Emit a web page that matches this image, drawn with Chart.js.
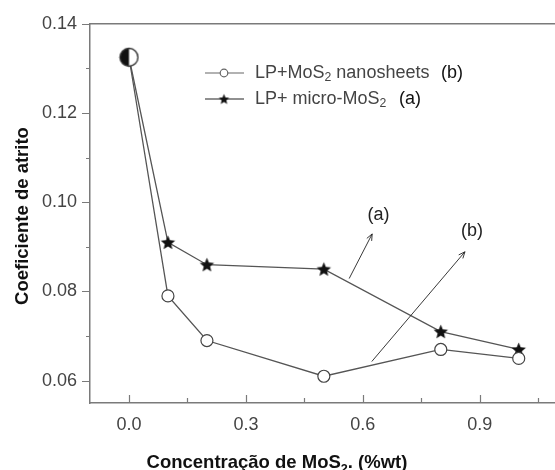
<!DOCTYPE html>
<html lang="pt">
<head>
  <meta charset="UTF-8" />
  <title>Coeficiente de atrito</title>
  <style>
    html, body { margin: 0; padding: 0; background: #ffffff; overflow: hidden; }
    #wrap { width: 565px; height: 470px; }
  </style>
</head>
<body>
<div id="wrap"><canvas id="atrito" width="565" height="470"></canvas></div>

<script src="https://cdn.jsdelivr.net/npm/chart.js"></script>
<script>
  // concentration (%wt) and friction coefficient for each lubricant
  const concentracao = [0.0, 0.1, 0.2, 0.5, 0.8, 1.0];
  const nanosheets = [0.1325, 0.079, 0.069, 0.061, 0.067, 0.065];
  const microMoS2 = [0.1325, 0.091, 0.086, 0.085, 0.071, 0.067];

  const xTicks = [0.0, 0.3, 0.6, 0.9];
  const xMinor = [0.15, 0.45, 0.75, 1.05];
  const yTicks = [0.06, 0.08, 0.10, 0.12, 0.14];
  const yMinor = [0.07, 0.09, 0.11, 0.13];

  // annotation arrows: [x, y] in data units, label placed above the tip
  const arrows = [
    { label: '(a)', from: [0.565, 0.0829], to: [0.624, 0.0929], text: [0.640, 0.0972] },
    { label: '(b)', from: [0.623, 0.0643], to: [0.862, 0.0889], text: [0.880, 0.0935] }
  ];

  const LINE = '#555555';
  const AXIS = '#7a7a7a';
  const TEXT = '#444444';
  const FONT = '"Liberation Sans", Arial, sans-serif';

  function makeStar(r) {
    const c = document.createElement('canvas');
    c.width = c.height = Math.ceil(r * 2 + 2);
    const g = c.getContext('2d');
    const cx = c.width / 2, cy = c.height / 2 + r * 0.08;
    g.beginPath();
    for (let i = 0; i < 10; i++) {
      const rad = i % 2 === 0 ? r : r * 0.45;
      const a = -Math.PI / 2 + i * Math.PI / 5;
      g.lineTo(cx + rad * Math.cos(a), cy + rad * Math.sin(a));
    }
    g.closePath();
    g.fillStyle = '#111111';
    g.fill();
    return c;
  }

  function makeHalfCircle(r) {
    const c = document.createElement('canvas');
    c.width = c.height = Math.ceil(r * 2 + 3);
    const g = c.getContext('2d');
    const cx = c.width / 2, cy = c.height / 2;
    g.beginPath();
    g.arc(cx, cy, r, 0, Math.PI * 2);
    g.fillStyle = '#ffffff';
    g.fill();
    g.beginPath();
    g.arc(cx, cy, r, Math.PI / 2, Math.PI * 1.5);
    g.closePath();
    g.fillStyle = '#111111';
    g.fill();
    g.beginPath();
    g.arc(cx, cy, r, 0, Math.PI * 2);
    g.lineWidth = 1.4;
    g.strokeStyle = '#333333';
    g.stroke();
    return c;
  }

  const star = makeStar(7.5);
  const smallStar = makeStar(5.5);
  const halfCircle = makeHalfCircle(9);

  // draws text pieces in a row, pieces with sub:true are lowered and shrunk
  function richText(ctx, parts, x, y, size, bold) {
    let cx = x;
    parts.forEach(p => {
      const s = p.sub ? size * 0.68 : size;
      ctx.font = (bold ? 'bold ' : '') + s + 'px ' + FONT;
      ctx.fillText(p.t, cx, p.sub ? y + size * 0.28 : y);
      cx += ctx.measureText(p.t).width;
    });
    return cx;
  }

  function richWidth(ctx, parts, size, bold) {
    let w = 0;
    parts.forEach(p => {
      const s = p.sub ? size * 0.68 : size;
      ctx.font = (bold ? 'bold ' : '') + s + 'px ' + FONT;
      w += ctx.measureText(p.t).width;
    });
    return w;
  }

  const decorations = {
    id: 'decorations',
    afterDraw(chart) {
      const { ctx, chartArea: a, scales: { x, y } } = chart;
      ctx.save();

      // top frame line
      ctx.strokeStyle = AXIS;
      ctx.lineWidth = 1.5;
      ctx.beginPath();
      ctx.moveTo(a.left, a.top);
      ctx.lineTo(a.right, a.top);
      ctx.stroke();

      // y ticks point outwards, x ticks point inwards
      ctx.lineWidth = 1.2;
      ctx.beginPath();
      yTicks.forEach(v => { const p = Math.round(y.getPixelForValue(v)) + 0.5; ctx.moveTo(a.left - 8, p); ctx.lineTo(a.left, p); });
      yMinor.forEach(v => { const p = Math.round(y.getPixelForValue(v)) + 0.5; ctx.moveTo(a.left - 4, p); ctx.lineTo(a.left, p); });
      xTicks.forEach(v => { const p = Math.round(x.getPixelForValue(v)) + 0.5; ctx.moveTo(p, a.bottom); ctx.lineTo(p, a.bottom - 8); });
      xMinor.forEach(v => { const p = Math.round(x.getPixelForValue(v)) + 0.5; ctx.moveTo(p, a.bottom); ctx.lineTo(p, a.bottom - 5); });
      ctx.stroke();

      // arrows
      ctx.strokeStyle = '#222222';
      ctx.fillStyle = '#222222';
      ctx.lineWidth = 0.9;
      arrows.forEach(ar => {
        const x0 = x.getPixelForValue(ar.from[0]), y0 = y.getPixelForValue(ar.from[1]);
        const x1 = x.getPixelForValue(ar.to[0]), y1 = y.getPixelForValue(ar.to[1]);
        const ang = Math.atan2(y1 - y0, x1 - x0);
        ctx.beginPath();
        ctx.moveTo(x0, y0);
        ctx.lineTo(x1, y1);
        ctx.moveTo(x1 - 7 * Math.cos(ang - 0.4), y1 - 7 * Math.sin(ang - 0.4));
        ctx.lineTo(x1, y1);
        ctx.lineTo(x1 - 7 * Math.cos(ang + 0.4), y1 - 7 * Math.sin(ang + 0.4));
        ctx.stroke();
        ctx.font = '18px ' + FONT;
        ctx.textAlign = 'center';
        ctx.textBaseline = 'middle';
        ctx.fillText(ar.label, x.getPixelForValue(ar.text[0]), y.getPixelForValue(ar.text[1]));
      });

      // legend
      ctx.textAlign = 'left';
      ctx.textBaseline = 'middle';
      const rows = [
        { y: 73, marker: 'circle', parts: [{ t: 'LP+MoS' }, { t: '2', sub: true }, { t: ' nanosheets' }], tag: '(b)', tagX: 441 },
        { y: 99, marker: 'star', parts: [{ t: 'LP+ micro-MoS' }, { t: '2', sub: true }], tag: '(a)', tagX: 399 }
      ];
      rows.forEach(r => {
        ctx.strokeStyle = r.marker === 'circle' ? '#666666' : '#222222';
        ctx.lineWidth = 1.2;
        ctx.beginPath();
        ctx.moveTo(205, r.y);
        ctx.lineTo(244, r.y);
        ctx.stroke();
        if (r.marker === 'circle') {
          ctx.beginPath();
          ctx.arc(224, r.y, 3.8, 0, Math.PI * 2);
          ctx.fillStyle = '#ffffff';
          ctx.fill();
          ctx.stroke();
        } else {
          ctx.drawImage(smallStar, 224 - smallStar.width / 2, r.y - smallStar.height / 2);
        }
        ctx.fillStyle = TEXT;
        richText(ctx, r.parts, 255, r.y, 18, false);
        ctx.fillStyle = '#111111';
        ctx.font = '18px ' + FONT;
        ctx.fillText(r.tag, r.tagX, r.y);
      });

      // axis titles
      ctx.fillStyle = '#111111';
      ctx.textBaseline = 'alphabetic';
      const xTitle = [{ t: 'Concentração de MoS' }, { t: '2', sub: true }, { t: '. (%wt)' }];
      const xw = richWidth(ctx, xTitle, 18.5, true);
      richText(ctx, xTitle, 277 - xw / 2, 468, 18.5, true);

      ctx.translate(28, 216);
      ctx.rotate(-Math.PI / 2);
      ctx.font = 'bold 18.5px ' + FONT;
      ctx.textAlign = 'center';
      ctx.fillText('Coeficiente de atrito', 0, 0);

      ctx.restore();
    }
  };

  new Chart(document.getElementById('atrito').getContext('2d'), {
    type: 'line',
    data: {
      labels: concentracao,
      datasets: [
        {
          label: 'LP+MoS2 nanosheets',
          data: concentracao.map((c, i) => ({ x: c, y: nanosheets[i] })),
          borderColor: LINE,
          borderWidth: 1.3,
          pointStyle: concentracao.map((c, i) => i === 0 ? halfCircle : 'circle'),
          pointRadius: 6,
          pointBackgroundColor: '#ffffff',
          pointBorderColor: '#444444',
          pointBorderWidth: 1.2,
          tension: 0
        },
        {
          label: 'LP+ micro-MoS2',
          data: concentracao.map((c, i) => ({ x: c, y: microMoS2[i] })),
          borderColor: LINE,
          borderWidth: 1.3,
          pointStyle: star,
          pointRadius: concentracao.map((c, i) => i === 0 ? 0 : 6),
          tension: 0
        }
      ]
    },
    options: {
      responsive: false,
      animation: false,
      events: [],
      layout: { padding: { left: 0, top: 20, right: 2, bottom: 0 } },
      plugins: { legend: { display: false }, tooltip: { enabled: false } },
      scales: {
        x: {
          type: 'linear',
          min: -0.1,
          max: 1.1,
          afterFit(s) { s.height = 67; },
          afterBuildTicks(s) { s.ticks = xTicks.map(v => ({ value: v })); },
          grid: { display: false, drawTicks: false },
          border: { display: true, color: AXIS, width: 1.5 },
          ticks: {
            padding: 11,
            color: TEXT,
            font: { family: FONT, size: 18 },
            maxRotation: 0,
            callback: v => v.toFixed(1)
          }
        },
        y: {
          min: 0.055,
          max: 0.14,
          afterFit(s) { s.width = 90; },
          afterBuildTicks(s) { s.ticks = yTicks.map(v => ({ value: v })); },
          grid: { display: false, drawTicks: false },
          border: { display: true, color: AXIS, width: 1.5 },
          ticks: {
            padding: 13,
            color: TEXT,
            font: { family: FONT, size: 18 },
            callback: v => v.toFixed(2)
          }
        }
      }
    },
    plugins: [decorations]
  });
</script>
</body>
</html>
